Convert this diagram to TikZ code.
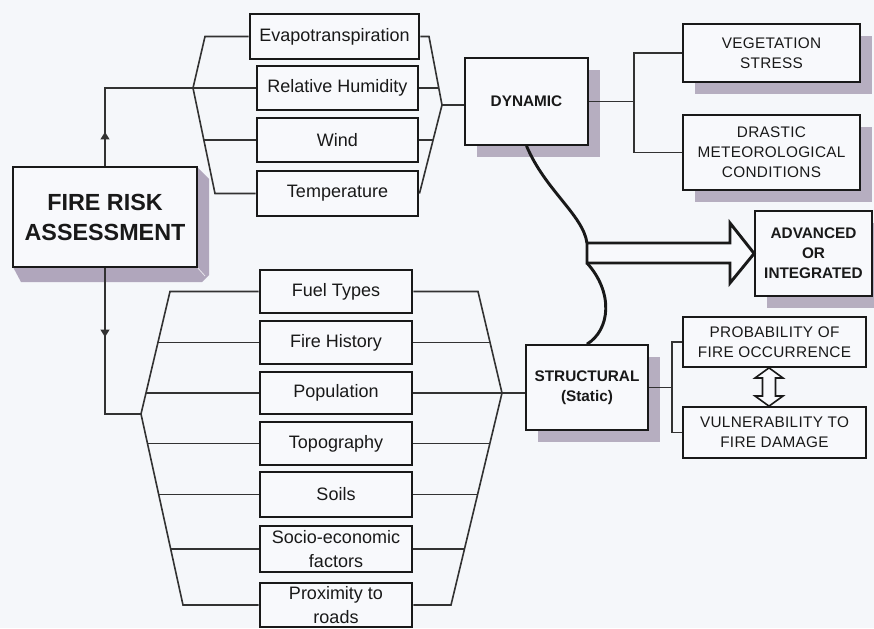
\documentclass[tikz,border=0pt]{standalone}
\usepackage{fontspec}
\setmainfont{Liberation Sans}
\newfontfamily\capfont[LetterSpace=2]{Liberation Sans}
\usetikzlibrary{shadows,decorations.markings,arrows.meta}
\definecolor{bgc}{RGB}{245,247,250}
\definecolor{boxc}{RGB}{248,249,252}
\definecolor{shc}{RGB}{182,174,192}
\definecolor{ink}{RGB}{25,25,25}
\definecolor{linec}{RGB}{50,50,50}
\definecolor{sidec}{RGB}{176,166,188}
\tikzset{
  spot/.style args={#1,#2,#3,#4}{minimum width={(#3-#1)*0.75pt}, minimum height={(#4-#2)*0.75pt},
    at={({(#1+#3)/2},{(#2+#4)/2})}},
  lbox/.style={draw=ink, line width=2.2pt, fill=boxc, inner sep=0pt, text=ink, align=center,
    font=\fontsize{13.5}{15.5}\selectfont},
  sbox/.style={draw=ink, line width=1.3pt, fill=boxc, inner sep=0pt, text=ink, align=center},
  shad/.style={drop shadow={shadow xshift=9pt, shadow yshift=-9pt, fill=shc, opacity=1}},
  capt/.style={font=\capfont\fontsize{11.5}{15}\selectfont},
  boldt/.style={font=\bfseries\fontsize{11.5}{15}\selectfont},
  conn/.style={draw=linec, line width=1.2pt},
  thickc/.style={draw=ink, line width=2.2pt},
  upmark/.style={postaction={decorate}, decoration={markings,
    mark=at position 25.5pt with {\arrow[linec]{Triangle[width=6.5pt,length=5.5pt]}}}},
  downmark/.style={postaction={decorate}, decoration={markings,
    mark=at position 51.75pt with {\arrow[linec]{Triangle[width=6.5pt,length=5.5pt]}}}}
}
\begin{document}
\begin{tikzpicture}[x=0.75pt,y=-0.75pt]
\useasboundingbox (0,0) rectangle (874,628);
\fill[bgc] (0,0) rectangle (874,628);

% FIRE RISK ASSESSMENT with 3D extrusion
\fill[sidec] (197,167) -- (209,179) -- (209,275) -- (202,282) -- (21,282) -- (13,267) -- (197,267) -- cycle;
\draw[white!70!sidec, line width=0.6pt] (197,267) -- (205,276);
\node[sbox, line width=1.6pt, spot={13,167,197,267}, font=\bfseries\fontsize{17.5}{22.5}\selectfont] (fire) {FIRE RISK\\ASSESSMENT};

% upper list
\node[lbox, spot={250,14,419,59}] (evap) {Evapotranspiration};
\node[lbox, spot={257,66,418,110}] (hum) {Relative Humidity};
\node[lbox, spot={257,118,418,162}] (wind) {Wind};
\node[lbox, spot={257,171,418,216}] (temp) {Temperature};

% lower list
\node[lbox, spot={260,270,412,313}] (fuel) {Fuel Types};
\node[lbox, spot={260,321,412,364}] (hist) {Fire History};
\node[lbox, spot={260,372,412,414}] (pop) {Population};
\node[lbox, spot={260,422,412,465}] (topo) {Topography};
\node[lbox, spot={260,472,412,517}] (soils) {Soils};
\node[lbox, spot={260,526,412,572}, font=\fontsize{13.5}{18}\selectfont] (socio) {Socio-economic\\factors};
\node[lbox, spot={260,583,412,627}, font=\fontsize{13.5}{18.5}\selectfont] (prox) {Proximity to\\roads};

% right side
\node[sbox, shad, boldt, spot={465,58,588,145}] (dyn) {DYNAMIC};
\node[sbox, shad, capt, spot={683,24,860,82}] (veg) {VEGETATION\\STRESS};
\node[sbox, shad, capt, spot={683,115,860,190}] (dra) {DRASTIC\\METEOROLOGICAL\\CONDITIONS};
\node[sbox, shad, boldt, spot={755,211,872,296}] (adv) {ADVANCED\\OR\\INTEGRATED};
\node[sbox, shad, boldt, spot={526,345,648,430}] (str) {STRUCTURAL\\(Static)};
\node[sbox, capt, spot={683,317,866,367}] (prob) {PROBABILITY OF\\FIRE OCCURRENCE};
\node[sbox, capt, spot={683,407,866,458}] (vul) {VULNERABILITY TO\\FIRE DAMAGE};

% bracket coordinates
\coordinate (tl1) at (205,36.5);
\coordinate (tlv) at (193,88);
\coordinate (tlw) at (204,140);
\coordinate (tl4) at (215,193.5);
\coordinate (tr1) at (429,36.5);
\coordinate (trh) at (439,88);
\coordinate (trv) at (442,105);
\coordinate (trw) at (433,140);
\coordinate (ll1) at (170,291.5);
\coordinate (llh) at (158,342.5);
\coordinate (llp) at (146,393);
\coordinate (llv) at (141,414);
\coordinate (llt) at (147.5,443.5);
\coordinate (lls) at (158.7,494.5);
\coordinate (llc) at (170.7,549);
\coordinate (ll2) at (183,605);
\coordinate (lr1) at (478,291.5);
\coordinate (lrh) at (490,342.5);
\coordinate (lrv) at (502,393);
\coordinate (lrt) at (490,443.5);
\coordinate (lrs) at (477.6,494.5);
\coordinate (lrc) at (464.5,549);
\coordinate (lr2) at (451,605);
\coordinate (dj) at (634,101.5);
\coordinate (sj) at (672,387.5);
\coordinate (ab1) at (587,243);
\coordinate (ab2) at (587,263);

% fire to groups
\draw[conn, upmark] (fire.north) -- (fire.north |- tlv) -- (tlv);
\draw[conn, downmark] (fire.south) -- (fire.south |- llv) -- (llv);

% upper brackets
\draw[conn] (evap.west) -- (tl1) -- (tlv) -- (tl4) -- (temp.west);
\draw[conn] (hum.west) -- (tlv);
\draw[conn] (wind.west) -- (tlw);
\draw[conn] (evap.east) -- (tr1) -- (trv) -- (temp.east);
\draw[conn] (hum.east) -- (trh);
\draw[conn] (wind.east) -- (trw);
\draw[conn] (trv) -- (trv -| dyn.west);

% lower brackets
\draw[conn] (fuel.west) -- (ll1) -- (llv) -- (ll2) -- (prox.west);
\draw[conn] (hist.west) -- (llh);
\draw[conn] (pop.west) -- (llp);
\draw[conn] (topo.west) -- (llt);
\draw[conn] (soils.west) -- (lls);
\draw[conn] (socio.west) -- (llc);
\draw[conn] (fuel.east) -- (lr1) -- (lrv) -- (lr2) -- (prox.east);
\draw[conn] (hist.east) -- (lrh);
\draw[conn] (pop.east) -- (lrv);
\draw[conn] (topo.east) -- (lrt);
\draw[conn] (soils.east) -- (lrs);
\draw[conn] (socio.east) -- (lrc);
\draw[conn] (lrv) -- (lrv -| str.west);

% dynamic / structural branches
\draw[conn] (dyn.east) -- (dj);
\draw[conn] (veg.west) -- (veg.west -| dj) -- (dra.west -| dj) -- (dra.west);
\draw[conn] (str.east) -- (sj);
\draw[conn] (prob.west) -- (prob.west -| sj) -- (vul.west -| sj) -- (vul.west);

% curves and big arrow
\draw[thickc] (dyn.south) .. controls (545,190) and (583,215) .. (ab1);
\draw[thickc] (ab2) .. controls (614,293) and (610,330) .. (str.north);
\draw[thickc, fill=boxc, line join=miter] (ab1) -- (730,243) -- (730,223) -- (adv.west) -- (730,283) -- (730,263) -- (ab2) -- cycle;

% double arrow
\draw[draw=ink, line width=1.2pt, fill=boxc, line join=miter]
  (prob.south -| 769,0) -- (783,378) -- (775.5,378) -- (775.5,396) -- (783,396) -- (vul.north -| 769,0)
  -- (755,396) -- (762.5,396) -- (762.5,378) -- (755,378) -- cycle;
\end{tikzpicture}
\end{document}
